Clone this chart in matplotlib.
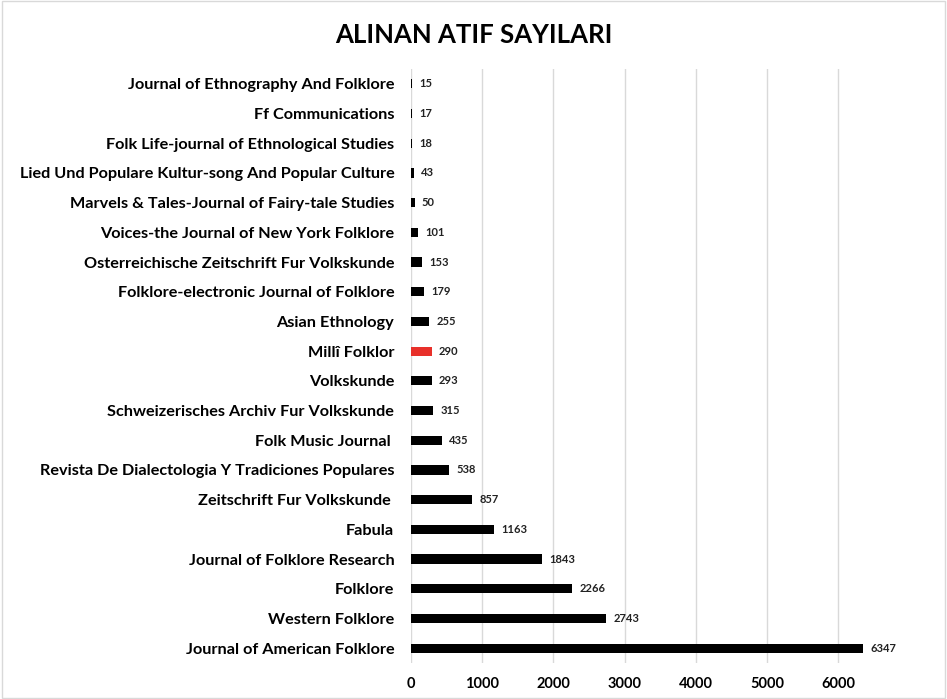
import matplotlib.pyplot as plt
from matplotlib.patches import Rectangle

# journals, bottom to top as drawn
journals = [
    'Journal of American Folklore',
    'Western Folklore',
    'Folklore',
    'Journal of Folklore Research',
    'Fabula',
    'Zeitschrift Fur Volkskunde ',
    'Revista De Dialectologia Y Tradiciones Populares',
    'Folk Music Journal ',
    'Schweizerisches Archiv Fur Volkskunde',
    'Volkskunde',
    'Millî Folklor',
    'Asian Ethnology',
    'Folklore-electronic Journal of Folklore',
    'Osterreichische Zeitschrift Fur Volkskunde',
    'Voices-the Journal of New York Folklore',
    'Marvels & Tales-Journal of Fairy-tale Studies',
    'Lied Und Populare Kultur-song And Popular Culture',
    'Folk Life-journal of Ethnological Studies',
    'Ff Communications',
    'Journal of Ethnography And Folklore',
]
citations = [6347, 2743, 2266, 1843, 1163, 857, 538, 435, 315, 293,
             290, 255, 179, 153, 101, 50, 43, 18, 17, 15]
highlight = 'Millî Folklor'

plt.rcParams['font.family'] = ['Lato', 'DejaVu Sans']

fig = plt.figure(figsize=(9.47, 6.99), dpi=100)
ax = fig.add_axes([411 / 947, 1 - 663 / 699, (874 - 411) / 947, (663 - 69) / 699])

colors = ['#e8302a' if j == highlight else 'black' for j in journals]
ypos = range(len(journals))
ax.barh(ypos, citations, height=0.31, color=colors, zorder=3)

for y, v in zip(ypos, citations):
    ax.text(v + 100, y, str(v), va='center', ha='left', fontsize=8,
            fontweight='bold', color='#222222')

ax.set_yticks(list(ypos))
ax.set_yticklabels(journals, fontsize=11.7, fontweight='bold')
ax.set_ylim(-0.5, len(journals) - 0.5)
ax.set_xlim(0, 6500)
ax.set_xticks(range(0, 7000, 1000))
ax.tick_params(axis='x', labelsize=10.5, length=0, pad=10)
ax.tick_params(axis='y', length=0, pad=12)
for lab in ax.get_xticklabels():
    lab.set_fontweight('bold')

ax.grid(axis='x', color='#d9d9d9', linewidth=1, zorder=0)
for s in ax.spines.values():
    s.set_visible(False)

fig.text(0.5, 1 - 35 / 699, 'ALINAN ATIF SAYILARI', ha='center', va='center',
         fontsize=18.5, fontweight='bold')

fig.patches.append(Rectangle((0.002, 0.002), 0.996, 0.996, transform=fig.transFigure,
                             fill=False, edgecolor='#d9d9d9', linewidth=1))

fig.savefig('out.png', dpi=100)
